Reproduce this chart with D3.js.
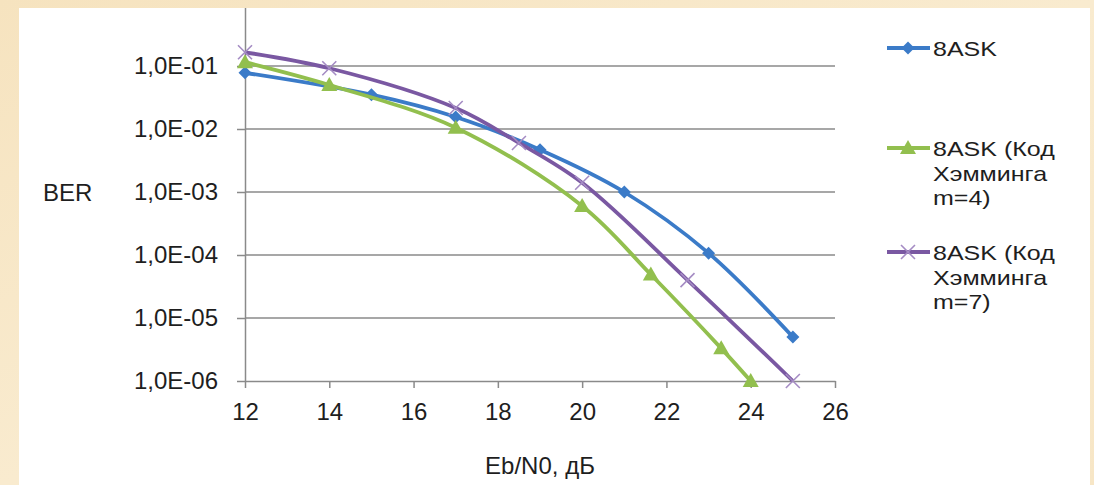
<!DOCTYPE html>
<html><head><meta charset="utf-8">
<script src="https://cdn.jsdelivr.net/npm/d3@7"></script>
<style>html,body{margin:0;padding:0;background:#f7e7c6;}svg{display:block;}</style>
</head><body>
<svg id="c" width="1094" height="485"></svg>
<script>
// ---- data ----
const xTicks = [12, 14, 16, 18, 20, 22, 24, 26];
const yTicks = [1e-6, 1e-5, 1e-4, 1e-3, 1e-2, 1e-1];
const yTickLabels = ["1,0E-06", "1,0E-05", "1,0E-04", "1,0E-03", "1,0E-02", "1,0E-01"];
const seriesNames = ["8ASK", "8ASK (Код Хэмминга m=4)", "8ASK (Код Хэмминга m=7)"];
const legendLines = [["8ASK"], ["8ASK (Код", "Хэмминга", "m=4)"], ["8ASK (Код", "Хэмминга", "m=7)"]];
const askX = [12, 15, 17, 19, 21, 23, 25];
const askY = [0.078, 0.035, 0.0155, 0.0047, 0.001, 0.000107, 0.000005];
const ham4X = [12, 14, 17, 20, 21.63, 23.3, 24];
const ham4Y = [0.115, 0.05, 0.0105, 0.0006, 0.000049, 0.0000033, 0.000001];
const ham7X = [12, 14, 17, 18.5, 20, 22.5, 25];
const ham7Y = [0.165, 0.092, 0.0215, 0.006, 0.0014, 0.00004, 0.000001];
const xTitle = "Eb/N0, дБ";
const yTitle = "BER";

const colors = ["#3b7bc8", "#92bf4e", "#7a58a2"];
const markerColors = ["#3b7bc8", "#92bf4e", "#a58cc4"];

const svg = d3.select("#c");
const W = 1094, H = 485;

// background
const defs = svg.append("defs");
const g0 = defs.append("linearGradient").attr("id", "bg").attr("x1", 0).attr("y1", 0).attr("x2", 1).attr("y2", 1);
g0.append("stop").attr("offset", "0%").attr("stop-color", "#f6e3bf");
g0.append("stop").attr("offset", "50%").attr("stop-color", "#f9ebcf");
g0.append("stop").attr("offset", "100%").attr("stop-color", "#f7e6c6");
svg.append("rect").attr("width", W).attr("height", H).attr("fill", "url(#bg)");
const panel = {x: 19, y: 8, w: 1071, h: 477};
svg.append("rect").attr("x", panel.x).attr("y", panel.y).attr("width", panel.w).attr("height", panel.h).attr("fill", "#ffffff");
defs.append("clipPath").attr("id", "pc").append("rect")
  .attr("x", panel.x).attr("y", panel.y).attr("width", panel.w).attr("height", panel.h);

const root = svg.append("g").attr("clip-path", "url(#pc)");

const x = d3.scaleLinear().domain([12, 26]).range([245, 835]);
const y = d3.scaleLog().domain([1e-6, 1]).range([381, 3]);

const font = "'Liberation Sans', Arial, sans-serif";
const gridCol = "#8a8a8a";
const textCol = "#1e1e1e";

// gridlines
root.append("g").selectAll("line").data(yTicks.slice(1)).join("line")
  .attr("x1", x(12)).attr("x2", x(26))
  .attr("y1", d => y(d)).attr("y2", d => y(d))
  .attr("stroke", gridCol).attr("stroke-width", 1.5);

// y axis
const yAxis = d3.axisLeft(y).tickValues(yTicks).tickFormat((d, i) => yTickLabels[i]).tickSizeInner(8).tickSizeOuter(0).tickPadding(19);
const ya = root.append("g").attr("transform", `translate(${x(12)},0)`).call(yAxis);
ya.select(".domain").attr("stroke", gridCol).attr("stroke-width", 1.5);
ya.selectAll(".tick line").attr("stroke", gridCol).attr("stroke-width", 1.5);
ya.selectAll(".tick text").attr("font-family", font).attr("font-size", 24).attr("fill", textCol);

// x axis
const xAxis = d3.axisBottom(x).tickValues(xTicks).tickFormat(d3.format("d")).tickSizeInner(7).tickSizeOuter(0).tickPadding(15);
const xa = root.append("g").attr("transform", `translate(0,${y(1e-6)})`).call(xAxis);
xa.select(".domain").attr("stroke", gridCol).attr("stroke-width", 1.5);
xa.selectAll(".tick line").attr("stroke", gridCol).attr("stroke-width", 1.5);
xa.selectAll(".tick text").attr("font-family", font).attr("font-size", 24).attr("fill", textCol);

// titles
root.append("text").attr("x", (x(12) + x(26)) / 2).attr("y", 474).attr("text-anchor", "middle")
  .attr("font-family", font).attr("font-size", 24).attr("fill", textCol).text(xTitle);
root.append("text").attr("x", 43).attr("y", y(1e-3) + 9).attr("font-family", font).attr("font-size", 24).attr("fill", textCol).text(yTitle);

// series
const data = [
  askX.map((v, i) => [v, askY[i]]),
  ham4X.map((v, i) => [v, ham4Y[i]]),
  ham7X.map((v, i) => [v, ham7Y[i]])
];
const line = d3.line().x(d => x(d[0])).y(d => y(d[1])).curve(d3.curveCatmullRom.alpha(0.5));

function marker(g, type, cx, cy, col) {
  if (type === 0) {
    const s = 6.5;
    g.append("path").attr("d", `M${cx},${cy - s}L${cx + s},${cy}L${cx},${cy + s}L${cx - s},${cy}Z`).attr("fill", col);
  } else if (type === 1) {
    const s = 8;
    g.append("path").attr("d", `M${cx},${cy - s}L${cx + s},${cy + s * 0.75}L${cx - s},${cy + s * 0.75}Z`).attr("fill", col);
  } else {
    const s = 7;
    g.append("path").attr("d", `M${cx - s},${cy - s}L${cx + s},${cy + s}M${cx - s},${cy + s}L${cx + s},${cy - s}`)
      .attr("stroke", col).attr("stroke-width", 1.6).attr("fill", "none");
  }
}

data.forEach((ser, k) => {
  const g = root.append("g");
  g.append("path").attr("d", line(ser)).attr("fill", "none").attr("stroke", colors[k]).attr("stroke-width", 3.8).attr("stroke-linejoin", "round");
  ser.forEach(d => marker(g, k, x(d[0]), y(d[1]), markerColors[k]));
});

// legend
const legendY = [48, 148, 252];
const lg = root.append("g").attr("aria-label", seriesNames.join("; "));
const probe = svg.append("text").attr("font-family", font).attr("font-size", 25).attr("visibility", "hidden");
function natWidth(s) { probe.text(s); return probe.node().getComputedTextLength(); }
legendLines.forEach((lines, k) => {
  const cy = legendY[k];
  lg.append("line").attr("x1", 887).attr("x2", 930).attr("y1", cy).attr("y2", cy).attr("stroke", colors[k]).attr("stroke-width", 3.8);
  marker(lg, k, 908, cy, markerColors[k]);
  lines.forEach((s, j) => {
    lg.append("text").attr("font-family", font).attr("font-size", 21).attr("fill", textCol)
      .attr("x", 933).attr("y", cy + 8 + j * 24.5)
      .attr("textLength", natWidth(s)).attr("lengthAdjust", "spacingAndGlyphs")
      .text(s);
  });
});
probe.remove();
</script>
</body></html>
